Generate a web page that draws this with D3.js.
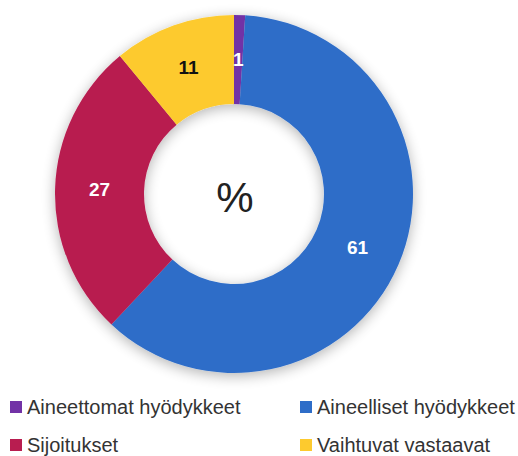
<!DOCTYPE html>
<html>
<head>
<meta charset="utf-8">
<script src="https://cdn.jsdelivr.net/npm/d3@7"></script>
<style>
  body { margin: 0; background: #fff; }
  svg { display: block; font-family: "Liberation Sans", Arial, sans-serif; }
</style>
</head>
<body>
<div id="container"></div>
<script>
// data
const categories = ["Aineettomat hyödykkeet", "Aineelliset hyödykkeet", "Sijoitukset", "Vaihtuvat vastaavat"];
const values = [1, 61, 27, 11];
const colors = ["#7232a6", "#2e6dc8", "#b81d50", "#fdca2e"];
const labelColors = ["#fff", "#fff", "#fff", "#111"];

const w = 518;
const h = 456;
const cx = 234;
const cy = 194;
const outerR = 179;
const innerR = 90;

const svg = d3.select("#container")
              .append("svg")
              .attr("width", w)
              .attr("height", h);

// soft shadow round the ring
const defs = svg.append("defs");
const filter = defs.append("filter")
                   .attr("id", "shadow")
                   .attr("x", "-20%").attr("y", "-20%")
                   .attr("width", "140%").attr("height", "140%");
filter.append("feGaussianBlur").attr("in", "SourceAlpha").attr("stdDeviation", 7);
filter.append("feOffset").attr("dx", 0).attr("dy", 3).attr("result", "blur");
filter.append("feComponentTransfer").append("feFuncA").attr("type", "linear").attr("slope", 0.3);
const merge = filter.append("feMerge");
merge.append("feMergeNode");
merge.append("feMergeNode").attr("in", "SourceGraphic");

const pie = d3.pie().sort(null).value((d) => d);
const arcs = pie(values);

const arc = d3.arc().innerRadius(innerR).outerRadius(outerR);
const labelArc = d3.arc().innerRadius((innerR + outerR) / 2).outerRadius((innerR + outerR) / 2);

const g = svg.append("g")
             .attr("transform", "translate(" + cx + "," + cy + ")");

g.append("g")
 .attr("filter", "url(#shadow)")
 .selectAll("path")
 .data(arcs)
 .enter()
 .append("path")
 .attr("d", arc)
 .attr("fill", (d, i) => colors[i]);

// slice labels
g.selectAll("text.val")
 .data(arcs)
 .enter()
 .append("text")
 .attr("class", "val")
 .attr("transform", (d) => "translate(" + labelArc.centroid(d) + ")")
 .attr("text-anchor", "middle")
 .attr("dominant-baseline", "central")
 .style("font-size", "19px")
 .style("font-weight", "bold")
 .attr("fill", (d, i) => labelColors[i])
 .text((d) => d.data);

// centre label
g.append("text")
 .attr("x", 1)
 .attr("y", 3)
 .attr("text-anchor", "middle")
 .attr("dominant-baseline", "central")
 .style("font-size", "42px")
 .attr("fill", "#222")
 .text("%");

// legend
const legendPos = [[10, 407], [300, 407], [10, 445], [300, 445]];
categories.forEach(function(c, i){
    svg.append("rect")
       .attr("x", legendPos[i][0])
       .attr("y", legendPos[i][1] - 6)
       .attr("width", 12)
       .attr("height", 12)
       .attr("fill", colors[i]);

    svg.append("text")
       .attr("x", legendPos[i][0] + 17)
       .attr("y", legendPos[i][1])
       .attr("dominant-baseline", "central")
       .style("font-size", "20px")
       .attr("fill", "#333")
       .text(c);
});
</script>
</body>
</html>
